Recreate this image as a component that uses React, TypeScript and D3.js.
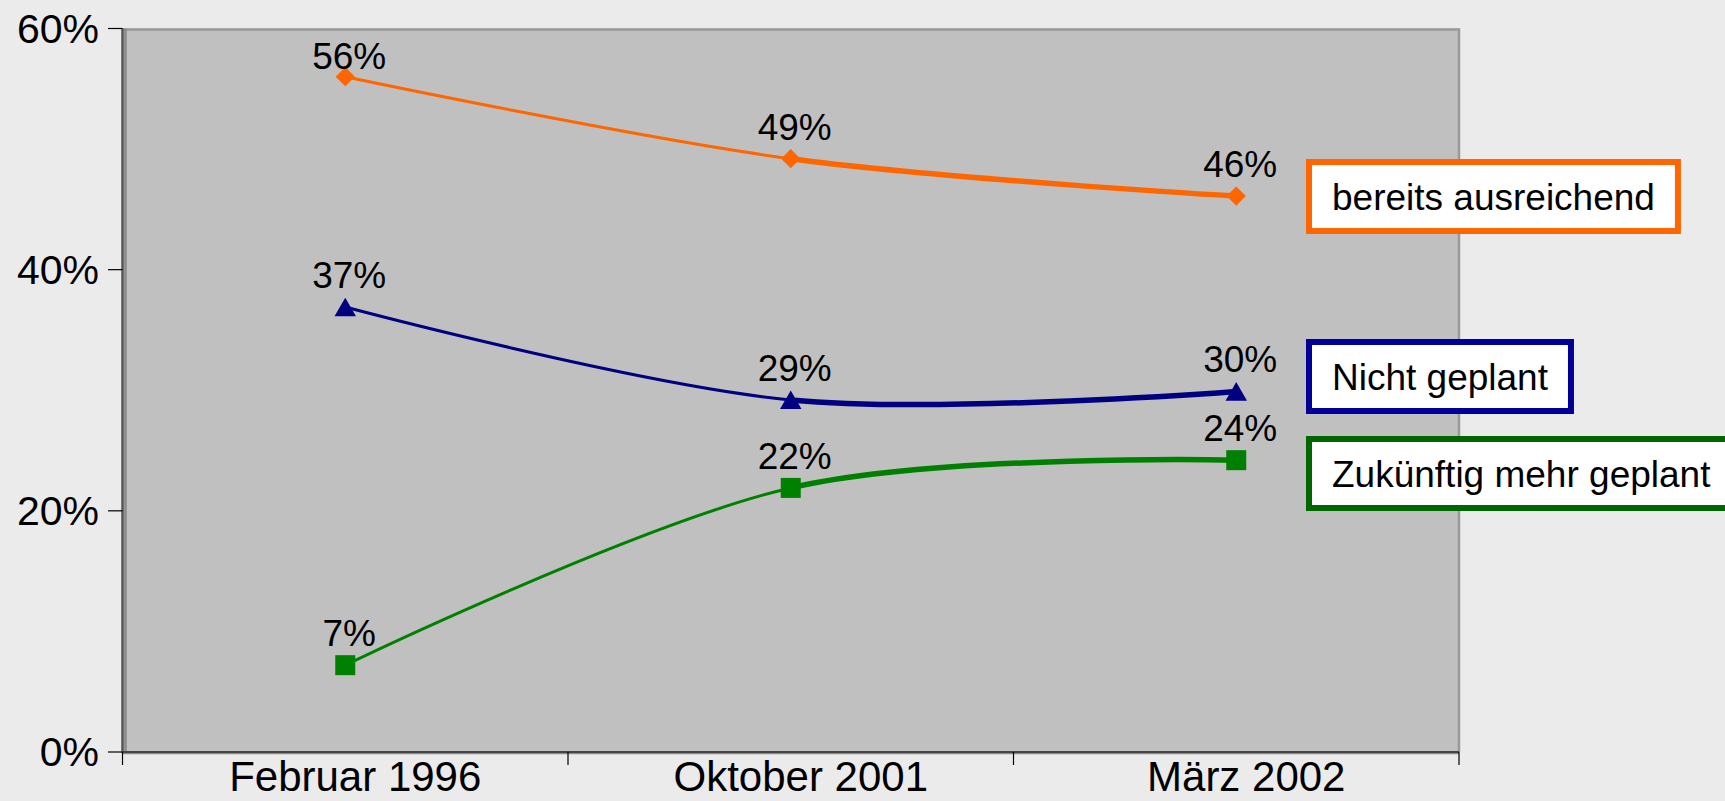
import React, { useRef, useEffect } from "react";
import * as d3 from "d3";

const categories = ["Februar 1996", "Oktober 2001", "März 2002"];
const bereitsAusreichend = [56, 49.2, 46.1];
const nichtGeplant = [36.9, 29.2, 29.9];
const zukuenftigMehrGeplant = [7.2, 21.9, 24.2];
const seriesNames = ["bereits ausreichend", "Nicht geplant", "Zukünftig mehr geplant"];
const yTicks = [0, 20, 40, 60];

const W = 1725;
const H = 801;
const FONT = "'Liberation Sans', Arial, Helvetica, sans-serif";

const series = [
  { name: seriesNames[0], values: bereitsAusreichend, color: "#ff6600", box: "#ff6600", symbol: "diamond", boxTop: 159 },
  { name: seriesNames[1], values: nichtGeplant, color: "#000080", box: "#000099", symbol: "triangle", boxTop: 339 },
  { name: seriesNames[2], values: zukuenftigMehrGeplant, color: "#008000", box: "#006600", symbol: "square", boxTop: 436 },
];

const App = () => {
  const canvas = useRef<SVGSVGElement>(null);

  const plot = { left: 122.5, right: 1459, top: 28.5, bottom: 752 };

  const drawChart = () => {
    const svg = d3.select(canvas.current);
    svg.selectAll("*").remove();

    svg.append("rect").attr("width", W).attr("height", H).attr("fill", "#ebebeb");

    const xScale = d3.scaleBand<string>().domain(categories).range([plot.left, plot.right]).padding(0);
    const yScale = d3.scaleLinear().domain([0, 60]).range([plot.bottom, plot.top]);
    const cx = (i: number) => (xScale(categories[i]) as number) + xScale.bandwidth() / 2;

    // plot area
    svg.append("rect")
      .attr("x", plot.left).attr("y", plot.top)
      .attr("width", plot.right - plot.left).attr("height", plot.bottom - plot.top)
      .attr("fill", "#c0c0c0");
    svg.append("line").attr("x1", plot.left).attr("x2", plot.right + 1)
      .attr("y1", plot.top + 1).attr("y2", plot.top + 1)
      .attr("stroke", "#9a9a9a").attr("stroke-width", 2.5);
    svg.append("line").attr("x1", plot.right).attr("x2", plot.right)
      .attr("y1", plot.top).attr("y2", plot.bottom)
      .attr("stroke", "#9a9a9a").attr("stroke-width", 2.5);
    svg.append("line").attr("x1", plot.left + 3).attr("x2", plot.left + 3)
      .attr("y1", plot.top).attr("y2", plot.bottom)
      .attr("stroke", "#8a8a8a").attr("stroke-width", 2.5);
    svg.append("line").attr("x1", plot.left).attr("x2", plot.left)
      .attr("y1", plot.top).attr("y2", plot.bottom + 1)
      .attr("stroke", "#555").attr("stroke-width", 2.5);
    svg.append("line").attr("x1", plot.left).attr("x2", plot.right)
      .attr("y1", plot.bottom + 1.5).attr("y2", plot.bottom + 1.5)
      .attr("stroke", "#8a8a8a").attr("stroke-width", 1.5);
    svg.append("line").attr("x1", plot.left).attr("x2", plot.right)
      .attr("y1", plot.bottom).attr("y2", plot.bottom)
      .attr("stroke", "#444").attr("stroke-width", 2);

    // y axis
    const yAxis = svg.append("g");
    yTicks.forEach(t => {
      const y = yScale(t);
      yAxis.append("line").attr("x1", 108).attr("x2", plot.left).attr("y1", y).attr("y2", y)
        .attr("stroke", "#000").attr("stroke-width", 1.2);
      yAxis.append("text").attr("x", 99).attr("y", y + 14)
        .attr("text-anchor", "end").attr("font-family", FONT).attr("font-size", 41)
        .attr("fill", "#000").text(t + "%");
    });

    // x axis
    const xAxis = svg.append("g");
    const bounds = categories.map(c => xScale(c) as number).concat([plot.right]);
    bounds.forEach(b => {
      xAxis.append("line").attr("x1", b).attr("x2", b).attr("y1", plot.bottom).attr("y2", plot.bottom + 13)
        .attr("stroke", "#000").attr("stroke-width", 1.2);
    });
    categories.forEach((c, i) => {
      xAxis.append("text").attr("x", cx(i) + 10).attr("y", 791)
        .attr("text-anchor", "middle").attr("font-family", FONT).attr("font-size", 42)
        .attr("fill", "#000").text(c);
    });

    // clip regions: thin first segment, thick second
    const defs = svg.append("defs");
    defs.append("clipPath").attr("id", "clipThin").append("rect")
      .attr("x", 0).attr("y", 0).attr("width", cx(1)).attr("height", H);
    defs.append("clipPath").attr("id", "clipThick").append("rect")
      .attr("x", cx(1)).attr("y", 0).attr("width", W - cx(1)).attr("height", H);

    const line = d3.line<number>()
      .x((d, i) => cx(i))
      .y(d => yScale(d))
      .curve(d3.curveCardinal.tension(0));

    series.forEach(s => {
      svg.append("path").attr("d", line(s.values))
        .attr("fill", "none").attr("stroke", s.color).attr("stroke-width", 3)
        .attr("clip-path", "url(#clipThin)");
      svg.append("path").attr("d", line(s.values))
        .attr("fill", "none").attr("stroke", s.color).attr("stroke-width", 5.5)
        .attr("clip-path", "url(#clipThick)");
    });

    // markers
    series.forEach(s => {
      s.values.forEach((v, i) => {
        const x = cx(i);
        const y = yScale(v);
        if (s.symbol === "diamond") {
          svg.append("path").attr("d", d3.symbol(d3.symbolSquare, 185)())
            .attr("transform", `translate(${x},${y}) rotate(45)`).attr("fill", s.color);
        } else if (s.symbol === "triangle") {
          svg.append("path").attr("d", d3.symbol(d3.symbolTriangle, 200)())
            .attr("transform", `translate(${x},${y + 3})`).attr("fill", s.color);
        } else {
          svg.append("path").attr("d", d3.symbol(d3.symbolSquare, 400)())
            .attr("transform", `translate(${x},${y})`).attr("fill", s.color);
        }
      });
    });

    // data labels
    series.forEach(s => {
      s.values.forEach((v, i) => {
        const base = Math.max(yScale(v) - 19, plot.top + 40);
        svg.append("text").attr("x", cx(i) + 4).attr("y", base)
          .attr("text-anchor", "middle").attr("font-family", FONT).attr("font-size", 37)
          .attr("fill", "#000").text(Math.round(v) + "%");
      });
    });

    // legend boxes
    series.forEach(s => {
      const g = svg.append("g");
      const rect = g.append("rect");
      const txt = g.append("text").attr("x", 1332).attr("y", s.boxTop + 51)
        .attr("font-family", FONT).attr("font-size", 37).attr("fill", "#000").text(s.name);
      const tw = (txt.node() as SVGTextElement).getComputedTextLength();
      rect.attr("x", 1309).attr("y", s.boxTop + 3)
        .attr("width", 1332 + tw + 23 - 1309).attr("height", 69)
        .attr("fill", "#fff").attr("stroke", s.box).attr("stroke-width", 6);
    });
  };

  useEffect(() => {
    drawChart();
  });

  return (
    <svg ref={canvas} width={W} height={H}
      style={{ position: "absolute", left: 0, top: 0, display: "block" }} />
  );
};

export default App;
